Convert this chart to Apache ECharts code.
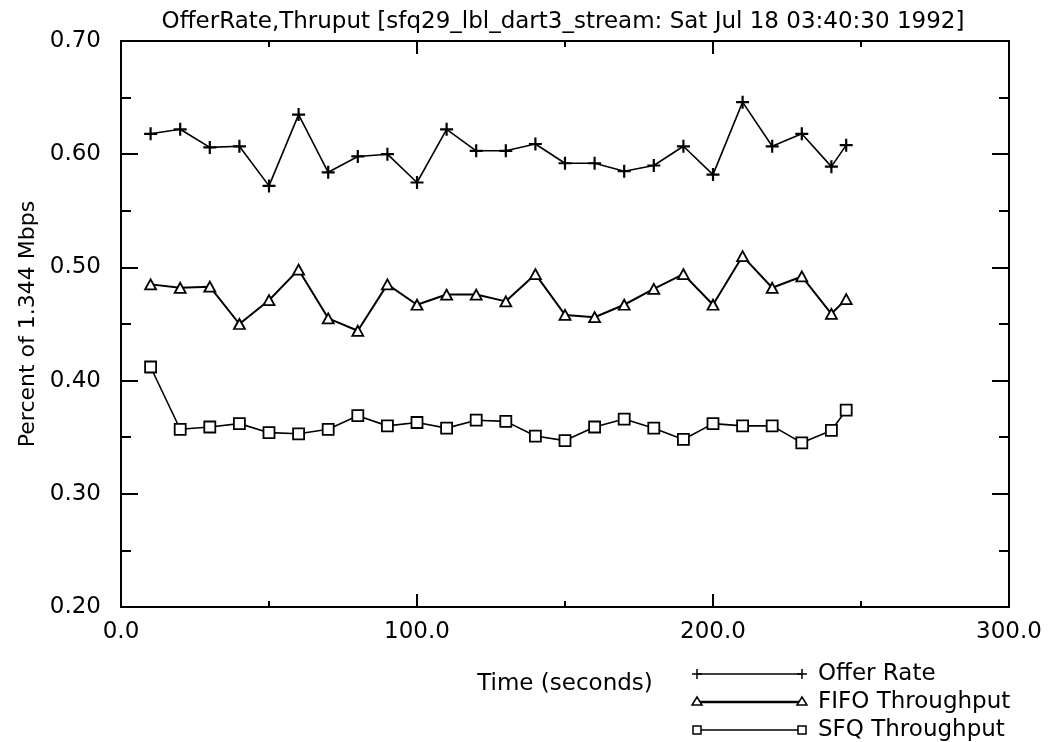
<!DOCTYPE html>
<html>
<head>
<meta charset="utf-8">
<script src="https://cdn.jsdelivr.net/npm/echarts@6/dist/echarts.min.js"></script>
<style>
  html, body { margin: 0; padding: 0; background: #fff; }
  #chart { width: 1049px; height: 742px; }
</style>
</head>
<body>
<div id="chart"></div>
<script>
// Sample times (seconds)
const times = [10, 20, 30, 40, 50, 60, 70, 80, 90, 100, 110, 120, 130,
               140, 150, 160, 170, 180, 190, 200, 210, 220, 230, 240, 245];

// Fraction of the 1.344 Mbps link
const offerRate = [0.618, 0.622, 0.606, 0.607, 0.572, 0.635, 0.584, 0.598, 0.600, 0.575,
                   0.622, 0.603, 0.603, 0.609, 0.592, 0.592, 0.585, 0.590, 0.607, 0.582,
                   0.646, 0.607, 0.618, 0.589, 0.608];
const fifoThroughput = [0.485, 0.482, 0.483, 0.450, 0.471, 0.498, 0.455, 0.444, 0.485, 0.467,
                        0.476, 0.476, 0.470, 0.494, 0.458, 0.456, 0.467, 0.481, 0.494, 0.467,
                        0.510, 0.482, 0.492, 0.459, 0.472];
const sfqThroughput = [0.412, 0.357, 0.359, 0.362, 0.354, 0.353, 0.357, 0.369, 0.360, 0.363,
                       0.358, 0.365, 0.364, 0.351, 0.347, 0.359, 0.366, 0.358, 0.348, 0.362,
                       0.360, 0.360, 0.345, 0.356, 0.374];

// Tick labels
const xTickLabels = ['0.0', '100.0', '200.0', '300.0'];
const yTickLabels = ['0.20', '0.30', '0.40', '0.50', '0.60', '0.70'];

const seriesNames = ['Offer Rate', 'FIFO Throughput', 'SFQ Throughput'];

const FONT = 'DejaVu Sans';
const INK = '#000';
const PLUS = 'path://M0,6L12,6M6,0L6,12';

const pairs = (ys) => ys.map((y, i) => [times[i], y]);

const chart = echarts.init(document.getElementById('chart'), null, { renderer: 'canvas' });

// Frame lines stay on the grid edges (not snapped to the other axis' zero)
const axisCommon = {
  axisLine: { show: true, onZero: false, lineStyle: { color: INK, width: 2 } },
  splitLine: { show: false },
  minorSplitLine: { show: false }
};

// Inward-pointing ticks on every side of the frame
const xTicks = {
  axisTick: { show: true, inside: true, length: 13, lineStyle: { color: INK, width: 2 } },
  minorTick: { show: true, splitNumber: 2, length: 6, lineStyle: { color: INK, width: 2 } }
};
const yTicks = {
  axisTick: { show: true, inside: true, length: 17, lineStyle: { color: INK, width: 2 } },
  minorTick: { show: true, splitNumber: 2, length: 10, lineStyle: { color: INK, width: 2 } }
};

const grid = { left: 121, right: 40, top: 41, bottom: 135 };

// Legend swatches: line with a marker at each end
function legendItem(row, name, marker, lineWidth) {
  const y = 674 + row * 28;
  const x1 = 697, x2 = 802;
  const kids = [{
    type: 'line', shape: { x1, y1: y, x2, y2: y },
    style: { stroke: INK, lineWidth }
  }];
  [x1, x2].forEach(x => {
    if (marker === 'plus') {
      kids.push({ type: 'line', shape: { x1: x - 5, y1: y, x2: x + 5, y2: y }, style: { stroke: INK, lineWidth: 1.5 } });
      kids.push({ type: 'line', shape: { x1: x, y1: y - 5, x2: x, y2: y + 5 }, style: { stroke: INK, lineWidth: 1.5 } });
    } else if (marker === 'triangle') {
      kids.push({ type: 'polygon', shape: { points: [[x, y - 5], [x - 5, y + 3], [x + 5, y + 3]] },
                  style: { fill: '#fff', stroke: INK, lineWidth: 1.5 } });
    } else {
      kids.push({ type: 'rect', shape: { x: x - 4, y: y - 4, width: 8, height: 8 },
                  style: { fill: '#fff', stroke: INK, lineWidth: 1.5 } });
    }
  });
  kids.push({
    type: 'text', x: 818, y,
    style: { text: name, font: '23px "' + FONT + '"', fill: INK, textVerticalAlign: 'middle' }
  });
  return { type: 'group', children: kids };
}

chart.setOption({
  backgroundColor: '#fff',
  animation: false,
  title: {
    text: 'OfferRate,Thruput [sfq29_lbl_dart3_stream: Sat Jul 18 03:40:30 1992]',
    left: 563, top: 11, textAlign: 'center', padding: 0,
    textStyle: { fontFamily: FONT, fontSize: 23, fontWeight: 'normal', color: INK }
  },
  grid,
  xAxis: [{
    type: 'value', min: 0, max: 300, interval: 100, position: 'bottom',
    name: 'Time (seconds)', nameLocation: 'middle', nameGap: 66,
    nameTextStyle: { fontFamily: FONT, fontSize: 23, color: INK },
    ...axisCommon, ...xTicks,
    axisLabel: {
      fontFamily: FONT, fontSize: 23, color: INK, margin: 14,
      formatter: v => xTickLabels[Math.round(v / 100)]
    }
  }, {
    type: 'value', min: 0, max: 300, interval: 100, position: 'top',
    ...axisCommon, ...xTicks,
    axisLabel: { show: false }
  }],
  yAxis: [{
    type: 'value', min: 0.2, max: 0.7, interval: 0.1, position: 'left',
    name: 'Percent of 1.344 Mbps', nameLocation: 'middle', nameGap: 82, nameRotate: 90,
    nameTextStyle: { fontFamily: FONT, fontSize: 22, color: INK },
    ...axisCommon, ...yTicks,
    axisLabel: {
      fontFamily: FONT, fontSize: 23, color: INK, margin: 20,
      formatter: v => yTickLabels[Math.round((v - 0.2) * 10)]
    }
  }, {
    type: 'value', min: 0.2, max: 0.7, interval: 0.1, position: 'right',
    ...axisCommon, ...yTicks,
    axisLabel: { show: false }
  }],
  series: [{
    name: seriesNames[0], type: 'line', data: pairs(offerRate),
    symbol: PLUS, symbolSize: 13, showAllSymbol: true,
    lineStyle: { color: INK, width: 1.6 },
    itemStyle: { color: INK, borderColor: INK, borderWidth: 2.2 }
  }, {
    name: seriesNames[1], type: 'line', data: pairs(fifoThroughput),
    symbol: 'triangle', symbolSize: [11, 10], showAllSymbol: true,
    lineStyle: { color: INK, width: 2 },
    itemStyle: { color: '#fff', borderColor: INK, borderWidth: 1.8 }
  }, {
    name: seriesNames[2], type: 'line', data: pairs(sfqThroughput),
    symbol: 'rect', symbolSize: 11, showAllSymbol: true,
    lineStyle: { color: INK, width: 1.6 },
    itemStyle: { color: '#fff', borderColor: INK, borderWidth: 1.8 }
  }],
  graphic: [
    legendItem(0, seriesNames[0], 'plus', 1.3),
    legendItem(1, seriesNames[1], 'triangle', 2.5),
    legendItem(2, seriesNames[2], 'square', 1.3)
  ]
});
</script>
</body>
</html>
